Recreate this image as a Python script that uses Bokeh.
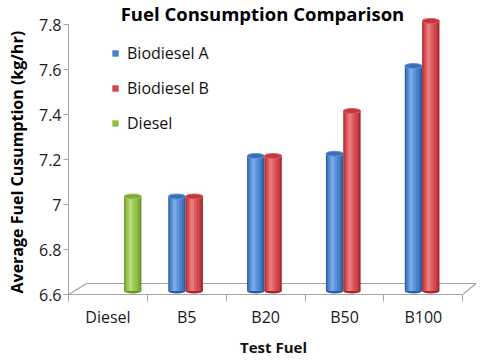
import numpy as np
from bokeh.plotting import figure
from bokeh.models import (ColumnDataSource, Range1d, FixedTicker, NumeralTickFormatter,
                          Legend, LegendItem, Label, Title)
from bokeh.embed import file_html
from bokeh.resources import INLINE
from bokeh.transform import dodge

# ---------------- data ----------------
categories = ["Diesel", "B5", "B20", "B50", "B100"]
biodiesel_a = [np.nan, 7.02, 7.20, 7.21, 7.60]
biodiesel_b = [np.nan, 7.02, 7.20, 7.40, 7.80]
diesel = [7.02, np.nan, np.nan, np.nan, np.nan]
y_ticks = [6.6, 6.8, 7.0, 7.2, 7.4, 7.6, 7.8]
y_base = 6.6

title_text = "Fuel Consumption Comparison"
y_title = "Average Fuel Cusumption (kg/hr)"
x_title = "Test Fuel"

# ---------------- style ----------------
FONT = "Open Sans"
GRAY = "#a6a6a6"
PX_PER_UNIT = 225.0
FRAME_H = 294
Y_END = y_base + FRAME_H / PX_PER_UNIT
LIFT = 3.5 / PX_PER_UNIT          # bars stand mid-depth on the 3D floor
CAP_H = 5.0 / PX_PER_UNIT
BAR_W = 0.22

palettes = {
    "blue":  dict(edge="#2E5C9A", dark="#3A6FB6", mid="#4A82CC", light="#5C94DA", hi="#78AAE6"),
    "red":   dict(edge="#A2282D", dark="#C0383D", mid="#D2484C", light="#DD5D60", hi="#E97B7D"),
    "green": dict(edge="#6A952B", dark="#7DAA37", mid="#8FBD45", light="#9FCA57", hi="#B6DA7A"),
}
series = [
    ("Biodiesel A", biodiesel_a, "blue", -0.125),
    ("Biodiesel B", biodiesel_b, "red", 0.095),
    ("Diesel", diesel, "green", 0.315),
]

p = figure(frame_width=410, frame_height=FRAME_H, x_range=Range1d(0, 5.2),
           y_range=Range1d(y_base, Y_END), output_backend="svg", toolbar_location=None,
           min_border_left=67, min_border_right=0, min_border_top=0, min_border_bottom=62)
p.outline_line_color = None
p.xgrid.visible = False
p.ygrid.visible = False
p.background_fill_color = "white"

# y axis
ya = p.yaxis[0]
ya.ticker = FixedTicker(ticks=y_ticks)
ya.formatter = NumeralTickFormatter(format="0.[0]")
ya.bounds = (y_ticks[0], y_ticks[-1])
ya.axis_line_color = GRAY
ya.major_tick_line_color = GRAY
ya.major_tick_out = 5
ya.major_tick_in = 0
ya.minor_tick_line_color = None
ya.major_label_standoff = 2
ya.major_label_text_font = FONT
ya.major_label_text_font_size = "16px"
ya.major_label_text_color = "#1a1a1a"

# y axis title, laid out in the left panel, starting at the floor
p.add_layout(Title(text=y_title, align="left", offset=1, standoff=11, vertical_align="top",
                   text_font=FONT, text_font_style="bold", text_font_size="16px",
                   text_color="#000000"), "left")

# x axis: labels at category centres, tick marks at category boundaries
xa = p.xaxis[0]
centers = [i + 0.5 for i in range(len(categories))]
xa.ticker = FixedTicker(ticks=centers, minor_ticks=list(range(len(categories) + 1)))
xa.major_label_overrides = {c: name for c, name in zip(centers, categories)}
xa.bounds = (0, len(categories))
xa.axis_line_color = GRAY
xa.major_tick_line_color = None
xa.major_tick_out = 0
xa.major_tick_in = 0
xa.minor_tick_line_color = GRAY
xa.minor_tick_out = 7
xa.minor_tick_in = 0
xa.major_label_standoff = 4
xa.major_label_text_font = FONT
xa.major_label_text_font_size = "16px"
xa.major_label_text_color = "#1a1a1a"
xa.axis_label = x_title
xa.axis_label_text_font = FONT
xa.axis_label_text_font_style = "bold"
xa.axis_label_text_font_size = "15px"
xa.axis_label_text_color = "#111111"
xa.axis_label_standoff = 6

# 3D floor outline
n = len(categories)
back_y = y_base + 11 / PX_PER_UNIT
p.line(x=[0, 18 / 78.8, n + 0.17, n], y=[y_base, back_y, back_y, y_base],
       line_color=GRAY, line_width=1.2)

legend_items = []
strips = [(1.00, 0.00, "edge"), (0.86, -0.02, "dark"), (0.70, -0.05, "mid"),
          (0.46, -0.09, "light"), (0.20, -0.12, "hi")]
for name, vals, pal_name, off in series:
    pal = palettes[pal_name]
    xs = [i + 0.5 for i, v in enumerate(vals) if not np.isnan(v)]
    vs = [v for v in vals if not np.isnan(v)]
    src = ColumnDataSource(dict(x=xs, top=[v + LIFT for v in vs],
                                bottom=[y_base + LIFT] * len(vs)))
    # bottom cap
    p.ellipse(x=dodge("x", off, range=p.x_range), y="bottom", width=BAR_W, height=CAP_H,
              source=src, fill_color=pal["edge"], line_color=None)
    legend_r = None
    for wf, shift, key in strips:
        r = p.vbar(x=dodge("x", off + shift * BAR_W, range=p.x_range), top="top",
                   bottom="bottom", width=BAR_W * wf, source=src,
                   fill_color=pal[key], line_color=None)
        if key == "mid":
            legend_r = r
    # top cap
    p.ellipse(x=dodge("x", off, range=p.x_range), y="top", width=BAR_W, height=CAP_H,
              source=src, fill_color=pal["dark"], line_color=pal["light"], line_width=1)
    legend_items.append(LegendItem(label=name, renderers=[legend_r]))

legend = Legend(items=legend_items, location=(43, 160), orientation="vertical",
                glyph_width=8, glyph_height=8, label_height=22, spacing=13,
                label_standoff=8, padding=0, margin=0, border_line_color=None,
                background_fill_alpha=0, label_text_font=FONT,
                label_text_font_size="16px", label_text_color="#111111")
p.add_layout(legend, "center")

p.add_layout(Label(x=194, y=FRAME_H - 13, x_units="screen", y_units="screen",
                   text=title_text, text_align="center", text_baseline="middle",
                   text_font=FONT, text_font_style="bold", text_font_size="18.5px",
                   text_color="#000000"))

open("out.html", "w").write(file_html(p, INLINE))
